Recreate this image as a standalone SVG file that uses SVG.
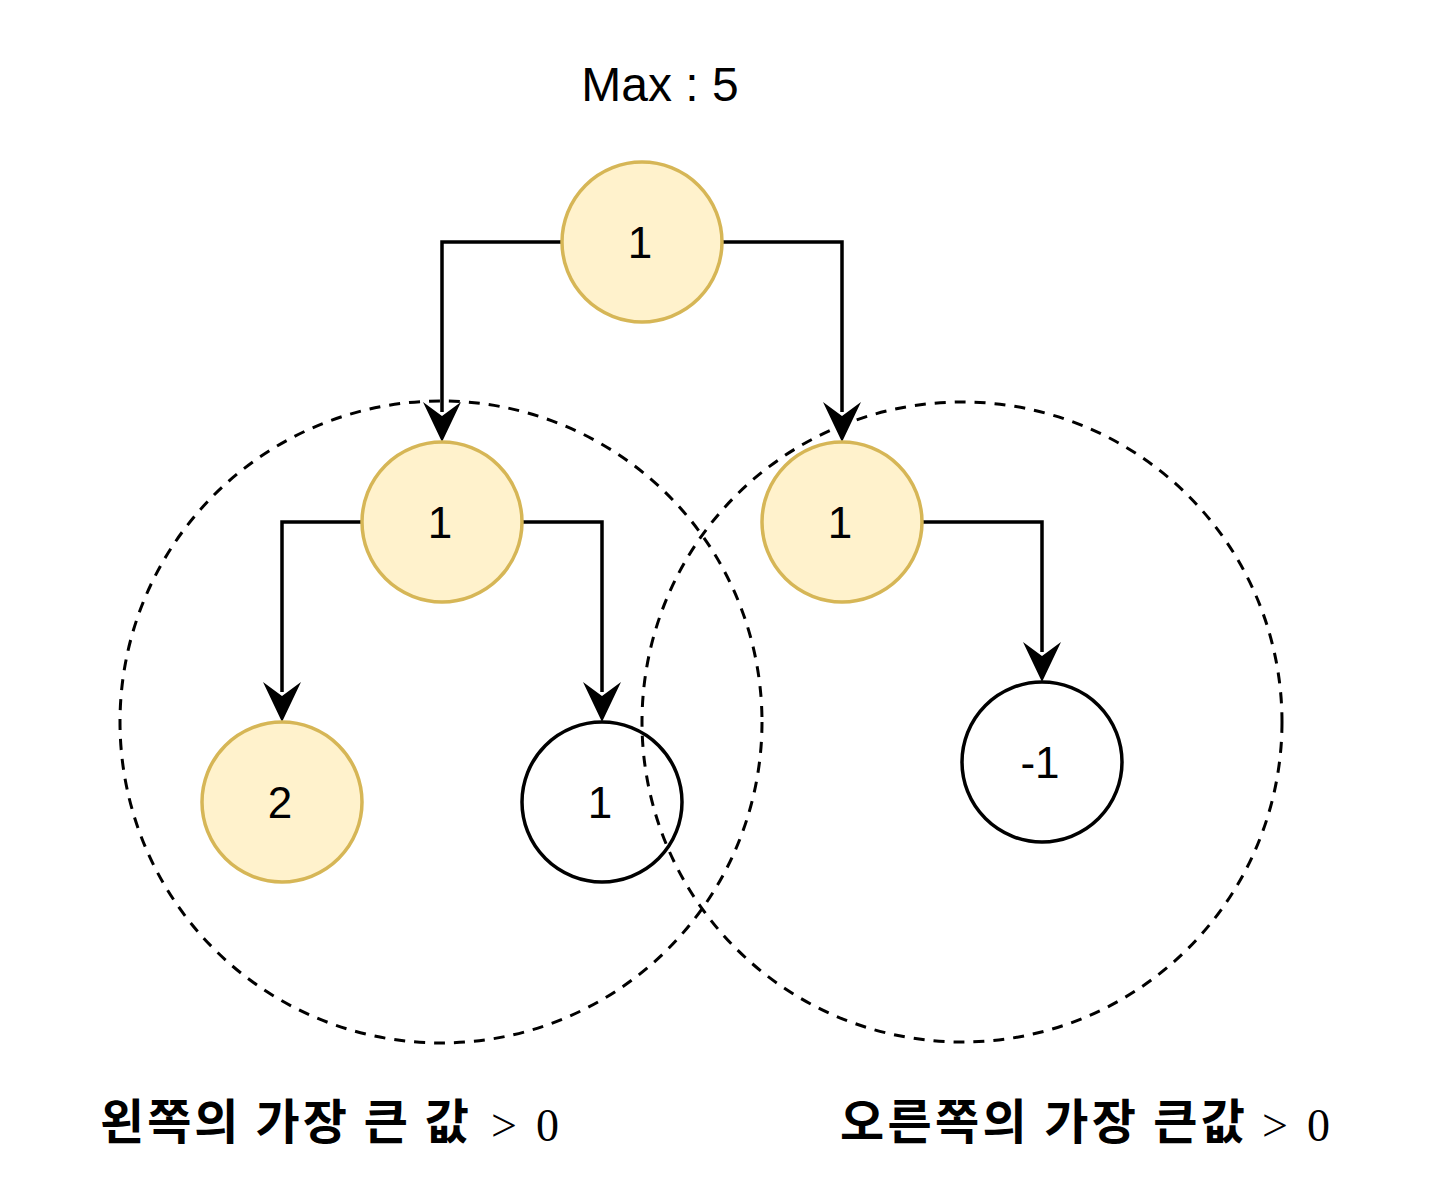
<svg xmlns="http://www.w3.org/2000/svg" width="1456" height="1204" viewBox="0 0 1456 1204">
<defs>
<style>
.hl{fill:#fff2cc;stroke:#d6b656;stroke-width:3.5}
.pl{fill:#ffffff;stroke:#000000;stroke-width:3.5}
.num{font-family:"Liberation Sans",Arial,sans-serif;font-size:44px;fill:#000;text-anchor:middle}
.edge{fill:none;stroke:#000;stroke-width:3.5}
.dash{fill:none;stroke:#000;stroke-width:3;stroke-dasharray:11 9}
.kr{font-family:"Noto Sans CJK KR","Noto Sans",sans-serif;font-size:48px;font-weight:bold;fill:#000}
.math{font-family:"Liberation Serif","Times New Roman",serif;font-size:46px;fill:#000}
</style>
</defs>
<rect width="1456" height="1204" fill="#fff"/>
<text class="num" x="660" y="101" style="font-size:48px">Max : 5</text>
<g id="connectors">
<path class="edge" d="M562,242 H442 V412"/>
<path d="M442,442 L423,402 L442,416 L461,402 Z" fill="#000"/>
<path class="edge" d="M722,242 H842 V412"/>
<path d="M842,442 L823,402 L842,416 L861,402 Z" fill="#000"/>
<path class="edge" d="M362,522 H282 V692"/>
<path d="M282,722 L263,682 L282,696 L301,682 Z" fill="#000"/>
<path class="edge" d="M522,522 H602 V692"/>
<path d="M602,722 L583,682 L602,696 L621,682 Z" fill="#000"/>
<path class="edge" d="M922,522 H1042 V652"/>
<path d="M1042,682 L1023,642 L1042,656 L1061,642 Z" fill="#000"/>
</g>
<g id="n-root"><circle class="hl" cx="642" cy="242" r="80"/><text class="num" x="640" y="258">1</text></g>
<g id="n-left"><circle class="hl" cx="442" cy="522" r="80"/><text class="num" x="440" y="538">1</text></g>
<g id="n-right"><circle class="hl" cx="842" cy="522" r="80"/><text class="num" x="840" y="538">1</text></g>
<g id="n-ll"><circle class="hl" cx="282" cy="802" r="80"/><text class="num" x="280" y="818">2</text></g>
<g id="n-lr"><circle class="pl" cx="602" cy="802" r="80"/><text class="num" x="600" y="818">1</text></g>
<g id="n-rr"><circle class="pl" cx="1042" cy="762" r="80"/><text class="num" x="1040" y="778">-1</text></g>
<g id="region-left"><circle class="dash" cx="441" cy="722" r="321"/></g>
<g id="region-right"><circle class="dash" cx="962" cy="722" r="320"/></g>
<g id="label-left"><text class="kr" x="100" y="1139" textLength="369" lengthAdjust="spacing">왼쪽의 가장 큰 값</text><text class="math" x="491" y="1141">&gt;</text><text class="math" x="536" y="1141">0</text></g>
<g id="label-right"><text class="kr" x="840" y="1139" textLength="405" lengthAdjust="spacing">오른쪽의 가장 큰값</text><text class="math" x="1262" y="1141">&gt;</text><text class="math" x="1307" y="1141">0</text></g>
</svg>
